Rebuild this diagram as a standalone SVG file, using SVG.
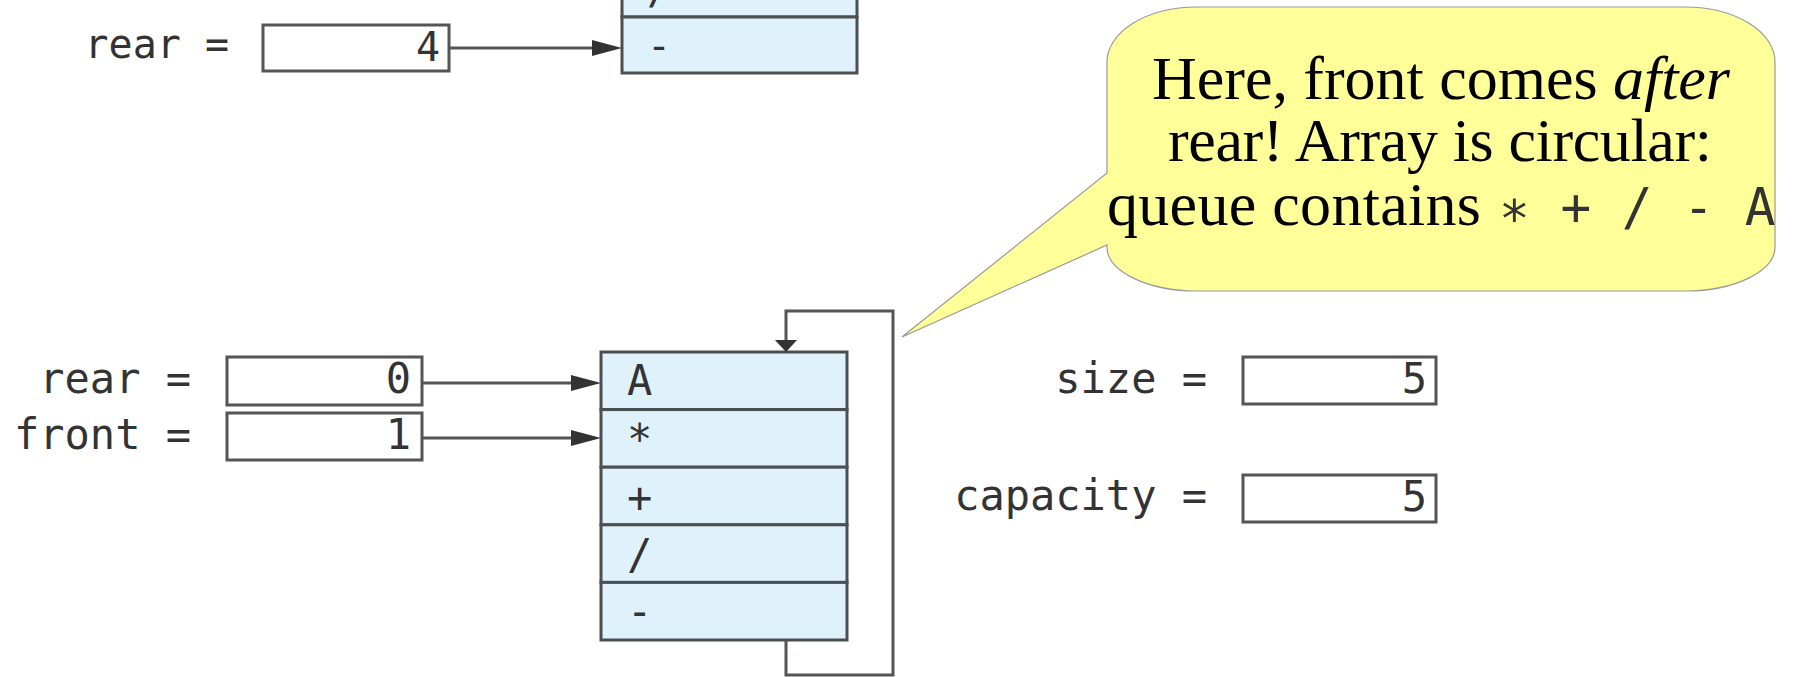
<svg xmlns="http://www.w3.org/2000/svg" width="1795" height="677" viewBox="0 0 1795 677">
  <style>
    .mono { font-family: "DejaVu Sans Mono", "Liberation Mono", monospace; fill: #333; }
    .lbl { font-size: 42px; }
    .lbl-s { font-size: 40px; }
    .box { fill: #ffffff; stroke: #555; stroke-width: 3; }
    .cell { fill: #dff1fb; stroke: #4a4f52; stroke-width: 3; }
    .wire { fill: none; stroke: #555; stroke-width: 3; }
    .serif { font-family: "Liberation Serif", "DejaVu Serif", serif; fill: #000; font-size: 62px; }
    .bubble { fill: #ffff99; stroke: #999; stroke-width: 1.2; }
  </style>
  <defs>
    <marker id="head" markerUnits="userSpaceOnUse" markerWidth="30" markerHeight="16" refX="19" refY="8" orient="auto">
      <path d="M0,0 L30,8 L0,16 z" fill="#333"/>
    </marker>
    <marker id="headSmall" markerUnits="userSpaceOnUse" markerWidth="12" markerHeight="22" refX="4" refY="11" orient="auto">
      <path d="M0,0 L12,11 L0,22 z" fill="#333"/>
    </marker>
  </defs>

  <rect width="1795" height="677" fill="#ffffff"/>

  <!-- upper state: last two array slots and the rear index -->
  <g id="upper-array">
    <rect class="cell" x="622" y="-41" width="235" height="58"/>
    <rect class="cell" x="622" y="17" width="235" height="56"/>
    <text class="mono lbl-s" x="647" y="4">/</text>
    <text class="mono lbl-s" x="647" y="60">-</text>
  </g>
  <g id="upper-rear">
    <text class="mono lbl-s" x="229" y="58" text-anchor="end">rear =</text>
    <rect class="box" x="263" y="25" width="186" height="46"/>
    <text class="mono lbl-s" x="440" y="61" text-anchor="end">4</text>
  </g>

  <!-- index variables -->
  <g id="rear">
    <text class="mono lbl" x="191" y="393" text-anchor="end">rear =</text>
    <rect class="box" x="227" y="357" width="195" height="48"/>
    <text class="mono lbl" x="411" y="393" text-anchor="end">0</text>
  </g>
  <g id="front">
    <text class="mono lbl" x="191" y="449" text-anchor="end">front =</text>
    <rect class="box" x="227" y="413" width="195" height="47"/>
    <text class="mono lbl" x="411" y="449" text-anchor="end">1</text>
  </g>

  <!-- circular array of five slots -->
  <g id="array">
    <rect class="cell" x="601" y="352" width="246" height="57.6"/>
    <rect class="cell" x="601" y="409.6" width="246" height="57.6"/>
    <rect class="cell" x="601" y="467.2" width="246" height="57.6"/>
    <rect class="cell" x="601" y="524.8" width="246" height="57.6"/>
    <rect class="cell" x="601" y="582.4" width="246" height="57.6"/>
    <text class="mono lbl" x="627" y="395">A</text>
    <text class="mono lbl" x="627" y="454">*</text>
    <text class="mono lbl" x="627" y="512">+</text>
    <text class="mono lbl" x="627" y="569">/</text>
    <text class="mono lbl" x="627" y="626">-</text>
  </g>

  <!-- bookkeeping fields -->
  <g id="size">
    <text class="mono lbl" x="1207" y="393" text-anchor="end">size =</text>
    <rect class="box" x="1243" y="357" width="193" height="47"/>
    <text class="mono lbl" x="1427" y="393" text-anchor="end">5</text>
  </g>
  <g id="capacity">
    <text class="mono lbl" x="1207" y="510" text-anchor="end">capacity =</text>
    <rect class="box" x="1243" y="475" width="193" height="47"/>
    <text class="mono lbl" x="1427" y="511" text-anchor="end">5</text>
  </g>

  <!-- pointers and the wrap-around loop -->
  <g id="connectors">
    <line class="wire" x1="449" y1="48" x2="611" y2="48" marker-end="url(#head)"/>
    <line class="wire" x1="422" y1="383" x2="590" y2="383" marker-end="url(#head)"/>
    <line class="wire" x1="422" y1="438" x2="590" y2="438" marker-end="url(#head)"/>
    <polyline class="wire" points="786,640 786,675 893,675 893,311 786,311 786,344" marker-end="url(#headSmall)"/>
  </g>

  <!-- callout -->
  <g id="callout">
    <path class="bubble" d="M1197,7 H1685 A90,55 0 0 1 1775,62 V247 A90,44 0 0 1 1685,291 H1197 A90,44 0 0 1 1107,247 V245 L902,337 L1107,173 V62 A90,55 0 0 1 1197,7 Z"/>
    <text class="serif" x="1152" y="99" textLength="578">Here, front comes <tspan font-style="italic">after</tspan></text>
    <text class="serif" x="1168" y="161" textLength="544">rear! Array is circular:</text>
    <text x="1107" y="225"><tspan class="serif" textLength="374">queue contains</tspan><tspan class="mono" x="1499" dy="12" font-size="51" fill="#000">*</tspan><tspan class="mono" dy="-12" font-size="51" fill="#000"> + / - A</tspan></text>
  </g>
</svg>
